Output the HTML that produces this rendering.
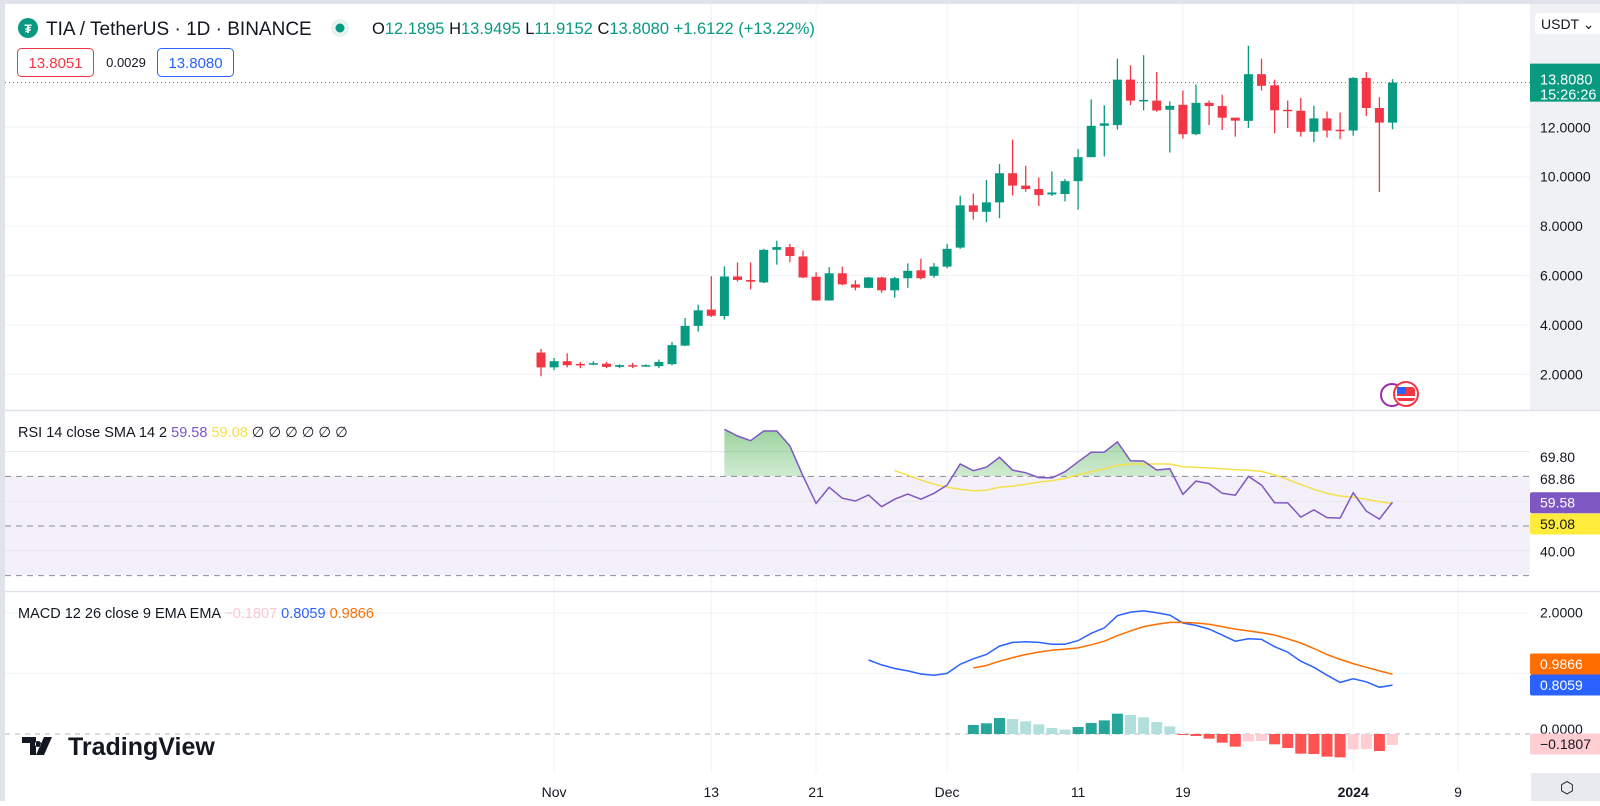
<!DOCTYPE html>
<html><head><meta charset="utf-8">
<style>
html,body{margin:0;padding:0;background:#fff;}
body{width:1600px;height:801px;overflow:hidden;position:relative;font-family:"Liberation Sans",sans-serif;}
svg text{font-family:"Liberation Sans",sans-serif;}
</style></head>
<body>
<svg id="chart" width="1600" height="801" viewBox="0 0 1600 801" xmlns="http://www.w3.org/2000/svg">
  <defs>
    <linearGradient id="rsiGrad" x1="0" y1="0" x2="0" y2="1">
      <stop offset="0" stop-color="#4caf50" stop-opacity="0.55"/>
      <stop offset="1" stop-color="#4caf50" stop-opacity="0"/>
    </linearGradient>
    <clipPath id="rsiTop"><rect x="0" y="411" width="1530" height="65"/></clipPath>
  </defs>
  <rect x="0" y="0" width="1600" height="801" fill="#ffffff"/>
  <rect x="0" y="0" width="1600" height="4" fill="#e0e3eb"/>
  <rect x="0" y="0" width="5" height="801" fill="#e0e3eb"/>
  <rect x="1530" y="4" width="70" height="406" fill="#f0f1f5"/>
  <rect x="5" y="476" width="1525" height="99" fill="#7e57c2" fill-opacity="0.09"/>
  <g id="grid"></g>
  <g id="candles"></g>
  <g id="rsi"></g>
  <g id="macd"></g>
  <g id="axes"></g>
  <line x1="5" y1="410.5" x2="1600" y2="410.5" stroke="#e0e3eb" stroke-width="1.5"/>
  <line x1="5" y1="591.5" x2="1600" y2="591.5" stroke="#e0e3eb" stroke-width="1.5"/>

  <g>
    <circle cx="28" cy="28" r="10" fill="#089981"/>
    <text x="28" y="33" font-size="12" fill="#fff" text-anchor="middle" font-weight="bold">₮</text>
    <text x="46" y="35" font-size="19" fill="#131722">TIA / TetherUS · 1D · BINANCE</text>
  </g>
  <circle cx="340" cy="28" r="9" fill="#e6f4f1"/>
  <circle cx="340" cy="28" r="4.5" fill="#089981"/>
  <text x="372" y="34" font-size="16.5" fill="#089981"><tspan fill="#131722">O</tspan>12.1895 <tspan fill="#131722">H</tspan>13.9495 <tspan fill="#131722">L</tspan>11.9152 <tspan fill="#131722">C</tspan>13.8080 +1.6122 (+13.22%)</text>
  <rect x="17.5" y="48.5" width="76" height="28" rx="4" fill="#fff" stroke="#f23645"/>
  <text x="55.5" y="68" font-size="15" fill="#f23645" text-anchor="middle">13.8051</text>
  <text x="126" y="67" font-size="13" fill="#131722" text-anchor="middle">0.0029</text>
  <rect x="157.5" y="48.5" width="76" height="28" rx="4" fill="#fff" stroke="#2962ff"/>
  <text x="195.5" y="68" font-size="15" fill="#2962ff" text-anchor="middle">13.8080</text>

  <rect x="1535" y="13" width="70" height="21" rx="4" fill="#fff"/>
  <text x="1541" y="29" font-size="14" fill="#131722">USDT ⌄</text>

  <text x="18" y="437" font-size="14.5" fill="#131722">RSI 14 close SMA 14 2 <tspan fill="#7e57c2">59.58</tspan> <tspan fill="#f5e04a">59.08</tspan> ∅ ∅ ∅ ∅ ∅ ∅</text>
  <text x="18" y="618" font-size="14.5" fill="#131722">MACD 12 26 close 9 EMA EMA <tspan fill="#f8c8d0">−0.1807</tspan> <tspan fill="#2962ff">0.8059</tspan> <tspan fill="#ff6d00">0.9866</tspan></text>

  <g>
    <path d="M22 737h14v18h-6v-12h-8z M38 741a3 3 0 1 0 0.01 0z M44 737h8l-8 18h-8z" fill="#131722"/>
    <text x="68" y="755" font-size="25" font-weight="bold" fill="#131722">TradingView</text>
  </g>

  <g>
    <circle cx="1392" cy="395" r="11" fill="#fff" stroke="#9c27b0" stroke-width="2"/>
    <circle cx="1406" cy="394" r="12" fill="#fff" stroke="#f23645" stroke-width="2"/>
    <rect x="1397" y="387" width="18" height="14" rx="3" fill="#f23645"/>
    <rect x="1397" y="387" width="9" height="7" fill="#2962ff"/>
    <rect x="1397" y="396" width="18" height="2" fill="#fff"/>
  </g>

  <rect x="1531" y="773" width="69" height="28" fill="#e8eaf0"/>
  <text x="1567" y="793" font-size="16" fill="#131722" text-anchor="middle">⬡</text>
</svg>
<script>
const dates = ["Oct31","Nov1","Nov2","Nov3","Nov4","Nov5","Nov6","Nov7","Nov8","Nov9","Nov10","Nov11","Nov12","Nov13","Nov14","Nov15","Nov16","Nov17","Nov18","Nov19","Nov20","Nov21","Nov22","Nov23","Nov24","Nov25","Nov26","Nov27","Nov28","Nov29","Nov30","Dec1","Dec2","Dec3","Dec4","Dec5","Dec6","Dec7","Dec8","Dec9","Dec10","Dec11","Dec12","Dec13","Dec14","Dec15","Dec16","Dec17","Dec18","Dec19","Dec20","Dec21","Dec22","Dec23","Dec24","Dec25","Dec26","Dec27","Dec28","Dec29","Dec30","Dec31","Jan1","Jan2","Jan3","Jan4"];
const openP  = [2.88,2.28,2.53,2.42,2.40,2.43,2.30,2.37,2.33,2.33,2.41,3.16,3.96,4.62,4.36,5.96,5.82,5.72,7.04,7.15,6.77,5.95,4.99,6.09,5.64,5.50,5.92,5.40,5.89,6.21,5.99,6.36,7.13,8.84,8.58,8.96,10.14,9.64,9.50,9.28,9.30,9.82,10.79,12.06,12.09,13.93,13.08,13.08,12.71,12.91,11.72,12.99,12.86,12.39,12.26,14.15,13.70,12.71,12.67,11.82,12.36,11.90,11.87,14.00,12.78,12.19];
const highP  = [3.03,2.66,2.85,2.50,2.53,2.50,2.40,2.47,2.40,2.60,3.31,4.28,4.82,5.97,6.37,6.53,6.53,7.08,7.41,7.28,7.01,6.13,6.34,6.36,5.81,5.94,5.95,5.94,6.49,6.68,6.50,7.28,9.23,9.32,9.86,10.51,11.50,10.44,9.97,10.21,9.91,11.12,13.13,12.89,14.78,14.51,14.92,14.24,13.05,13.49,13.73,13.09,13.32,12.39,15.30,14.78,13.93,13.08,13.19,12.87,12.64,12.60,14.03,14.24,13.22,13.95];
const lowP   = [1.92,2.17,2.28,2.25,2.37,2.25,2.25,2.25,2.30,2.25,2.37,3.14,3.73,4.32,4.22,5.75,5.44,5.69,6.44,6.54,5.89,4.98,4.98,5.60,5.40,5.48,5.30,5.10,5.50,5.84,5.91,6.29,7.08,8.26,8.16,8.32,9.24,9.39,8.81,9.22,9.00,8.67,10.79,10.82,11.91,12.90,12.68,12.63,10.98,11.54,11.68,12.09,11.89,11.62,11.97,13.49,11.76,11.97,11.62,11.40,11.59,11.52,11.66,12.46,9.38,11.92];
const closeP = [2.28,2.53,2.37,2.37,2.45,2.30,2.37,2.32,2.37,2.50,3.18,3.96,4.59,4.37,5.96,5.82,5.75,7.04,7.15,6.79,5.92,4.99,6.09,5.64,5.51,5.92,5.40,5.89,6.19,5.89,6.36,7.08,8.84,8.58,8.96,10.14,9.64,9.50,9.26,9.36,9.82,10.79,12.06,12.16,13.93,13.08,13.11,12.68,12.87,11.72,12.99,12.86,12.39,12.27,14.15,13.68,12.69,12.66,11.82,12.36,11.87,11.87,14.00,12.78,12.19,13.81];
const priceTicks = [2,4,6,8,10,12];
const lastPrice = 13.808;

const rsiStart = 14;
const rsiVals = [89.0,86.3,84.4,88.3,88.3,82.3,70.2,59.1,65.6,61.2,60.1,62.5,57.8,60.8,62.9,60.8,63.2,66.5,75.0,72.3,73.7,77.7,72.5,71.5,69.5,69.4,71.9,75.9,79.7,79.8,83.9,76.3,76.2,72.6,73.1,62.8,68.1,67.1,63.2,62.4,70.0,66.5,59.4,59.3,53.6,56.5,53.4,53.2,63.4,56.0,52.8,59.58];
const smaStart = 27;
const smaVals = [72.3,70.5,68.5,66.9,65.6,64.8,64.2,64.4,65.6,66.1,66.8,67.7,68.3,69.2,70.6,71.9,73.0,74.5,75.0,75.0,75.0,75.0,73.9,73.7,73.4,73.1,72.7,72.5,72.0,70.6,68.8,66.7,64.8,63.2,62.1,61.6,60.8,59.8,59.08];
const rsiBands = [70,50,30];
const rsiGridVals = [80,60,40];

const macdStart = 25;
const macdVals = [1.22,1.14,1.08,1.04,0.99,0.97,1.00,1.15,1.24,1.31,1.45,1.51,1.52,1.51,1.48,1.48,1.54,1.66,1.75,1.95,2.01,2.03,2.00,1.96,1.83,1.79,1.73,1.63,1.53,1.57,1.56,1.44,1.35,1.20,1.10,0.97,0.85,0.91,0.86,0.77,0.8059];
const signalStart = 33;
const signalVals = [1.09,1.13,1.20,1.26,1.31,1.35,1.38,1.40,1.42,1.47,1.53,1.62,1.70,1.77,1.81,1.84,1.84,1.83,1.81,1.77,1.73,1.70,1.67,1.63,1.57,1.50,1.41,1.31,1.23,1.16,1.10,1.04,0.9866];
const histStart = 33;
const histVals = [0.148,0.176,0.264,0.247,0.209,0.159,0.099,0.071,0.115,0.181,0.225,0.335,0.313,0.275,0.198,0.126,-0.015,-0.033,-0.077,-0.143,-0.209,-0.121,-0.115,-0.170,-0.231,-0.324,-0.330,-0.374,-0.385,-0.253,-0.247,-0.280,-0.1807];

const timeLabels = ["Nov","13","21","Dec","11","19","2024","9"];
const timeLabelIdx = [1,13,21,31,41,49,62,70];

const NS="http://www.w3.org/2000/svg";
function xAt(i){ return 541 + 13.1*i; }
function pY(p){ return 127.3 + (12-p)*24.7; }
function rY(v){ return 526 - (v-50)*2.48; }
function mY(v){ return 734 - v*60.65; }
function mk(tag, attrs, parent){
  const e=document.createElementNS(NS,tag);
  for(const k in attrs) e.setAttribute(k, attrs[k]);
  parent.appendChild(e); return e;
}
const grid=document.getElementById('grid');
const axes=document.getElementById('axes');

timeLabelIdx.forEach((d,k)=>{
  const gl=mk('line',{x1:xAt(d),x2:xAt(d),y1:4,y2:773,stroke:'#f0f3fa','stroke-width':1},grid);
  
  
  const t=mk('text',{x:xAt(d),y:797,'font-size':14,fill:'#131722','text-anchor':'middle','font-weight':timeLabels[k]==='2024'?'bold':'normal'},axes);
  t.textContent=timeLabels[k];
  
  
});
priceTicks.forEach(p=>{
  const gl=mk('line',{x1:5,x2:1530,y1:pY(p),y2:pY(p),stroke:'#f0f3fa','stroke-width':1},grid);
  
  
  const t=mk('text',{x:1540,y:pY(p)+5,'font-size':14,fill:'#131722'},axes);
  t.textContent=p.toFixed(4);
  
  
});
rsiGridVals.forEach(v=>{
  const gl=mk('line',{x1:5,x2:1530,y1:rY(v),y2:rY(v),stroke:'#e6e6ee','stroke-width':1},grid);
  
  
});
rsiBands.forEach(v=>{
  const gl=mk('line',{x1:5,x2:1530,y1:rY(v),y2:rY(v),stroke:'#8a8e99','stroke-width':1,'stroke-dasharray':'6,5'},grid);
  
  
});
[2,1].forEach(v=>{
  const gl=mk('line',{x1:5,x2:1530,y1:mY(v),y2:mY(v),stroke:'#f0f3fa','stroke-width':1},grid);
  
  
});
const zl=mk('line',{x1:5,x2:1530,y1:mY(0),y2:mY(0),stroke:'#b2b5be','stroke-width':1,'stroke-dasharray':'5,5'},grid);



const cg=document.getElementById('candles');
for(let i=0;i<openP.length;i++){
  const up=closeP[i]>=openP[i];
  const col=up?'#089981':'#f23645';
  const x=xAt(i);
  const w=mk('line',{x1:x,x2:x,y1:pY(highP[i]),y2:pY(lowP[i]),stroke:col,'stroke-width':1.3},cg);
  
  
  const top=pY(Math.max(openP[i],closeP[i])), bot=pY(Math.min(openP[i],closeP[i]));
  const b=mk('rect',{x:x-4.5,y:top,width:9,height:Math.max(1.5,bot-top),fill:col},cg);
  
  
}
const lp=mk('line',{x1:5,x2:1530,y1:pY(lastPrice),y2:pY(lastPrice),stroke:'#089981','stroke-width':1,'stroke-dasharray':'1,3'},cg);


const lpb=mk('rect',{x:1530,y:pY(lastPrice)-19,width:70,height:38,fill:'#089981'},axes);


let t=mk('text',{x:1540,y:pY(lastPrice)+2,'font-size':14.5,fill:'#fff'},axes); t.textContent=lastPrice.toFixed(4);
t=mk('text',{x:1540,y:pY(lastPrice)+17,'font-size':14.5,fill:'#fff'},axes); t.textContent='15:26:26';

const rg=document.getElementById('rsi');
let rp=rsiVals.map((v,k)=>xAt(rsiStart+k).toFixed(1)+','+rY(v).toFixed(1));
const fillPts=[xAt(rsiStart).toFixed(1)+','+rY(70)].concat(rp).concat([xAt(rsiStart+rsiVals.length-1).toFixed(1)+','+rY(70)]);
const rf=mk('polygon',{points:fillPts.join(' '),fill:'url(#rsiGrad)','clip-path':'url(#rsiTop)'},rg);


const sp=smaVals.map((v,k)=>xAt(smaStart+k).toFixed(1)+','+rY(v).toFixed(1));
const sl=mk('polyline',{points:sp.join(' '),fill:'none',stroke:'#f5e04a','stroke-width':1.5},rg);


const rl=mk('polyline',{points:rp.join(' '),fill:'none',stroke:'#7e57c2','stroke-width':1.5},rg);



[["69.80",457,null,'#131722'],["68.86",479,null,'#131722'],["59.58",502.7,'#7e57c2','#fff'],["59.08",524,'#ffeb3b','#131722'],["40.00",551.7,null,'#131722']].forEach(a=>{
  if(a[2]){ const r=mk('rect',{x:1530,y:a[1]-10.5,width:74,height:21,rx:2,fill:a[2]},axes);   }
  const tt=mk('text',{x:1540,y:a[1]+5,'font-size':14,fill:a[3]},axes); tt.textContent=a[0];
  
  
});

const mg=document.getElementById('macd');
histVals.forEach((v,k)=>{
  const prev=k>0?histVals[k-1]:0;
  let col;
  if(v>=0) col = v>=prev ? '#26a69a' : '#b2dfdb';
  else col = v<=prev ? '#ff5252' : '#ffcdd2';
  const x=xAt(histStart+k);
  const y0=mY(0), y1=mY(v);
  const r=mk('rect',{x:x-5.5,y:Math.min(y0,y1),width:11,height:Math.max(1,Math.abs(y1-y0)),fill:col},mg);
  
  
});
const mp=macdVals.map((v,k)=>xAt(macdStart+k).toFixed(1)+','+mY(v).toFixed(1));
const ml=mk('polyline',{points:mp.join(' '),fill:'none',stroke:'#2962ff','stroke-width':1.5},mg);


const gp=signalVals.map((v,k)=>xAt(signalStart+k).toFixed(1)+','+mY(v).toFixed(1));
const gl2=mk('polyline',{points:gp.join(' '),fill:'none',stroke:'#ff6d00','stroke-width':1.5},mg);



[["2.0000",612.7,null,'#131722'],["0.9866",664,'#ff6d00','#fff'],["0.8059",685,'#2962ff','#fff'],["0.0000",729,null,'#131722'],["−0.1807",744,'#ffcdd2','#131722']].forEach(a=>{
  if(a[2]){ const r=mk('rect',{x:1530,y:a[1]-10.5,width:74,height:21,rx:2,fill:a[2]},axes);   }
  const tt=mk('text',{x:1540,y:a[1]+5,'font-size':14,fill:a[3]},axes); tt.textContent=a[0];
  
  
});
</script>
</body></html>
